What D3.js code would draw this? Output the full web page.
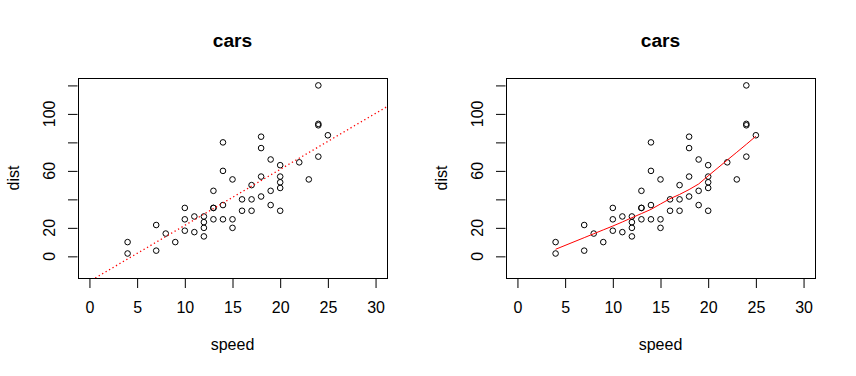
<!DOCTYPE html>
<html>
<head>
<meta charset="utf-8">
<title>cars</title>
<style>
  body { margin: 0; background: #fff; }
  svg text { font-family: "Liberation Sans", Arial, sans-serif; fill: #000; }
</style>
</head>
<body>
<svg id="chart" width="856" height="376"></svg>
<script src="https://d3js.org/d3.v7.min.js"></script>
<script>
// cars data set (speed mph, stopping distance ft)
var speed = [4,4,7,7,8,9,10,10,10,11,11,12,12,12,12,13,13,13,13,14,14,14,14,15,15,15,16,16,17,17,17,18,18,18,18,19,19,19,20,20,20,20,20,22,23,24,24,24,24,25];
var dist  = [2,10,4,22,16,10,18,26,34,17,28,14,20,24,28,26,34,34,46,26,36,60,80,20,26,54,32,40,32,40,50,42,56,76,84,36,46,68,32,48,52,56,64,66,54,70,92,93,120,85];

// straight fit on left panel
var lineCoef = [-17.579, 3.932];   // intercept, slope

// smooth fit on right panel
var smoothSpeed = [4,7,8,9,10,11,12,13,14,15,16,17,18,19,20,22,23,24,25];
var smoothDist  = [4.97,13.12,15.86,18.58,21.28,24.13,27.12,30.03,32.96,36.76,40.44,43.46,46.89,50.79,56.49,67.59,73.08,78.64,84.33];

var xTicks = [0,5,10,15,20,25,30];
var yTicks = [0,20,40,60,80,100,120];
var yLabels = [0,20,60,100];

var svg = d3.select("#chart");

function panel(left, kind) {
  var top = 78, w = 309, h = 200;
  var x = d3.scaleLinear().domain([-1.2, 31.2]).range([left, left + w]);
  var y = d3.scaleLinear().domain([-15.2, 125.2]).range([top + h, top]);
  var g = svg.append("g");

  var clipId = "clip" + kind;
  g.append("clipPath").attr("id", clipId)
    .append("rect").attr("x", left).attr("y", top).attr("width", w).attr("height", h);

  // x axis
  var xa = g.append("g").attr("transform", "translate(0," + (top + h + 0.5) + ")")
    .call(d3.axisBottom(x).tickValues(xTicks).tickSize(9.5).tickPadding(13.5).tickSizeOuter(0));
  xa.select(".domain").attr("stroke", "none");
  xa.selectAll(".tick line").attr("stroke", "#000");
  xa.selectAll("text").attr("font-size", 16).attr("font-family", "Liberation Sans, Arial, sans-serif");

  // y axis
  var ya = g.append("g").attr("transform", "translate(" + (left - 0.5) + ",0)")
    .call(d3.axisLeft(y).tickValues(yTicks).tickSize(9.5).tickSizeOuter(0).tickFormat(""));
  ya.select(".domain").attr("stroke", "none");
  ya.selectAll(".tick line").attr("stroke", "#000");
  g.selectAll(".ylab").data(yLabels).enter().append("text")
    .attr("transform", function(d) { return "translate(" + (left - 23) + "," + y(d) + ") rotate(-90)"; })
    .attr("text-anchor", "middle").attr("font-size", 16)
    .text(function(d) { return d; });

  // box
  g.append("rect").attr("x", left + 0.5).attr("y", top + 0.5)
    .attr("width", w).attr("height", h)
    .attr("fill", "none").attr("stroke", "#000").attr("stroke-width", 1);

  // points
  g.selectAll("circle").data(speed).enter().append("circle")
    .attr("cx", function(d) { return x(d); })
    .attr("cy", function(d, i) { return y(dist[i]); })
    .attr("r", 2.8).attr("fill", "none").attr("stroke", "#000").attr("stroke-width", 1);

  if (kind === "lm") {
    var xd = x.domain();
    g.append("line").attr("clip-path", "url(#" + clipId + ")")
      .attr("x1", x(xd[0])).attr("y1", y(lineCoef[0] + lineCoef[1] * xd[0]))
      .attr("x2", x(xd[1])).attr("y2", y(lineCoef[0] + lineCoef[1] * xd[1]))
      .attr("stroke", "red").attr("stroke-width", 1.3).attr("stroke-dasharray", "1.3,2.7");
  } else {
    var line = d3.line()
      .x(function(d) { return x(d); })
      .y(function(d, i) { return y(smoothDist[i]); });
    g.append("path").datum(smoothSpeed).attr("d", line)
      .attr("fill", "none").attr("stroke", "red").attr("stroke-width", 1);
  }

  // titles
  g.append("text").attr("x", left + w / 2).attr("y", 47)
    .attr("text-anchor", "middle").attr("font-size", 19.2).attr("font-weight", "bold")
    .text("cars");
  g.append("text").attr("x", x(15)).attr("y", 350)
    .attr("text-anchor", "middle").attr("font-size", 16).text("speed");
  g.append("text")
    .attr("transform", "translate(" + (left - 59) + "," + (top + h / 2) + ") rotate(-90)")
    .attr("text-anchor", "middle").attr("font-size", 16).text("dist");
}

panel(78, "lm");
panel(506, "lowess");
</script>
</body>
</html>
